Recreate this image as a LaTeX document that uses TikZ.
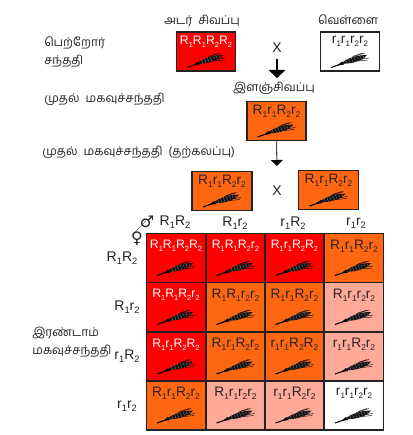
\documentclass[tikz,border=0pt]{standalone}
\usepackage{fontspec}
\setmainfont{Liberation Sans}
\newfontfamily\tamil[Script=Tamil]{Hind Madurai}
\newfontfamily\symb{DejaVu Sans}
\usetikzlibrary{arrows.meta}
\definecolor{dk}{HTML}{222222}
\definecolor{cred}{HTML}{FF0000}
\definecolor{corg}{HTML}{FF6611}
\definecolor{cpnk}{HTML}{FFAA99}
\def\losz{6.5}
\newcommand\lo[1]{\raisebox{-0.45ex}{\fontsize{\losz}{7}\selectfont #1}}
\newcommand\RR{R\lo1}\newcommand\rr{r\lo1}\newcommand\RT{R\lo2}\newcommand\rt{r\lo2}
\tikzset{
  x=0.75pt,y=-0.75pt,
  tam/.style={font=\tamil\fontsize{9}{11}\selectfont,text=dk,inner sep=0pt},
  lab/.style={font=\def\losz{7}\fontsize{10.5}{12}\selectfont,text=dk,inner sep=0pt},
  box/.style={draw=dk,line width=1.1pt,minimum width=44pt,minimum height=29.5pt,inner sep=0pt},
  cell/.style={draw=dk,line width=1.1pt,minimum width=44.3pt,minimum height=36.8pt,inner sep=0pt},
  gtw/.style={font=\def\losz{5.6}\fontsize{9.2}{11}\selectfont,inner sep=0pt,text=white},
  gtd/.style={font=\def\losz{6.3}\fontsize{10.3}{12}\selectfont,inner sep=0pt,text=dk},
  gtr/.style={font=\def\losz{6}\fontsize{10.3}{12}\selectfont,inner sep=0pt,text=dk},
  wheat/.pic={
    \draw[black,line width=0.8pt] (-19,6.5) -- (-6,2);
    \fill[black] (-13,4.5) -- (-8,0.5) -- (-6,3.5) -- cycle;
    \fill[black!92] (-9,2.5) .. controls (-2,-3.5) and (8,-6) .. (17,-6) .. controls (13,0) and (0,3.5) .. (-9,2.5) -- cycle;
    \foreach \i in {-5,-2,...,13}{
      \draw[black!45,line width=0.2pt] (\i,-3.5-\i*0.12) -- (\i+2,1.5-\i*0.25);
    }
    \draw[black,line width=0.3pt] (2,-4) -- (15,-8);
    \draw[black,line width=0.3pt] (6,-1) -- (19,-3);
    \draw[black,line width=0.3pt] (8,0) -- (18,-1);
    \draw[black,line width=0.3pt] (4,-5) -- (13,-8);
  }
}
\newcommand\cellx[6]{%
  \node[cell,fill=#4] (#1) at (#2,#3) {};
  \node[#5] (#1t) at ([yshift=9pt]#1.center) {#6};
  \path (#1.center) ++(0,11) pic {wheat};
}
\newcommand\boxx[7]{%
  \node[box,fill=#4,minimum width=#7] (#1) at (#2,#3) {};
  \node[#5] (#1t) at ([yshift=7.5pt]#1.center) {#6};
  \path (#1.center) ++(0,9.5) pic {wheat};
}
\begin{document}
\begin{tikzpicture}
\useasboundingbox (0,0) rectangle (412,435);
% labels
\node[tam,anchor=west] (lp1) at (44,43) {பெற்றோர்};
\node[tam,anchor=west] (lp2) at (44,61) {சந்ததி};
\node[tam,anchor=west] (lf1) at (44,99) {முதல்\ \ மகவுச்சந்ததி};
\node[tam,anchor=west] (lf2) at (42,152) {முதல்\ \ மகவுச்சந்ததி\ \ (தற்கலப்பு)};
\node[tam,anchor=west] (ls1) at (32,333) {இரண்டாம்};
\node[tam,anchor=west] (ls2) at (32,351) {மகவுச்சந்ததி};
\node[tam] (ldark) at (202,21) {அடர்\ \ சிவப்பு};
\node[tam] (lwhite) at (348,20) {வெள்ளை};
\node[tam] (llight) at (274,88) {இளஞ்சிவப்பு};
% top boxes
\boxx{p1}{206}{51.5}{cred}{gtw}{\RR\RR\RT\RT}{44pt}
\boxx{p2}{350}{51.5}{white}{gtr}{\rr\rr\rt\rt}{44pt}
\boxx{f1}{276.5}{121}{corg}{gtd}{\RR\rr\RT\rt}{44pt}
\boxx{s1}{222}{191}{corg}{gtd}{\RR\rr\RT\rt}{45pt}
\boxx{s2}{328.5}{190}{corg}{gtd}{\RR\rr\RT\rt}{45pt}
\node[font=\fontsize{10.5}{12}\selectfont,text=dk,inner sep=0pt] (x1) at (277,48) {X};
\node[font=\fontsize{10.5}{12}\selectfont,text=dk,inner sep=0pt] (x2) at (277,191) {X};
\coordinate (a1s) at (277,59);
\coordinate (a1e) at (277,78);
\coordinate (a2e) at (277,166);
\draw[black,line width=0.9pt,-{Triangle[length=6pt,width=12.5pt]}] (a1s) -- (a1e);
\draw[black!70,line width=0.8pt,-{Triangle[black,length=4.5pt,width=9pt]}] (f1.south) -- (a2e);
% headers
\node[lab] (c1) at (175,222) {\RR\RT};
\node[lab] (c2) at (235,223.5) {\RR\rt};
\node[lab] (c3) at (293,223.5) {\rr\RT};
\node[lab] (c4) at (356,223.5) {\rr\rt};
\node[lab] (r1) at (122,258) {\RR\RT};
\node[lab] (r2) at (127,307) {\RR\rt};
\node[lab] (r3) at (127,356) {\rr\RT};
\node[lab] (r4) at (127,406) {\rr\rt};
% sex symbols
\coordinate (d1) at (132,235);
\coordinate (d2) at (146,221);
\draw[black!60,line width=0.5pt] (d1) -- (d2);
\node[font=\symb\fontsize{12}{13}\selectfont,text=dk,inner sep=0pt] (male) at (147,222) {♂};
\node[font=\symb\fontsize{12}{13}\selectfont,text=dk,inner sep=0pt] (female) at (137,239) {♀};
% grid
\cellx{a1}{176}{258}{cred}{gtw}{\RR\RR\RT\RT}
\cellx{a2}{235.5}{258}{cred}{gtw}{\RR\RR\RT\rt}
\cellx{a3}{294.5}{258}{cred}{gtw}{\RR\rr\RT\RT}
\cellx{a4}{354}{258}{corg}{gtd}{\RR\rr\RT\rt}
\cellx{b1}{176}{307}{cred}{gtw}{\RR\RR\RT\rt}
\cellx{b2}{235.5}{307}{corg}{gtd}{\RR\RR\rt\rt}
\cellx{b3}{294.5}{307}{corg}{gtd}{\RR\rr\RT\rt}
\cellx{b4}{354}{307}{cpnk}{gtd}{\RR\rr\rt\rt}
\cellx{e1}{176}{356.5}{cred}{gtw}{\RR\rr\RT\RT}
\cellx{e2}{235.5}{356.5}{corg}{gtd}{\RR\rr\RT\rt}
\cellx{e3}{294.5}{356.5}{corg}{gtd}{\rr\rr\RT\RT}
\cellx{e4}{354}{356.5}{cpnk}{gtd}{\rr\rr\RT\rt}
\cellx{g1}{176}{405.5}{corg}{gtd}{\RR\rr\RT\rt}
\cellx{g2}{235.5}{405.5}{cpnk}{gtd}{\RR\rr\rt\rt}
\cellx{g3}{294.5}{405.5}{cpnk}{gtd}{\rr\rr\RT\rt}
\cellx{g4}{354}{405.5}{white}{gtr}{\rr\rr\rt\rt}
\end{tikzpicture}
\end{document}
